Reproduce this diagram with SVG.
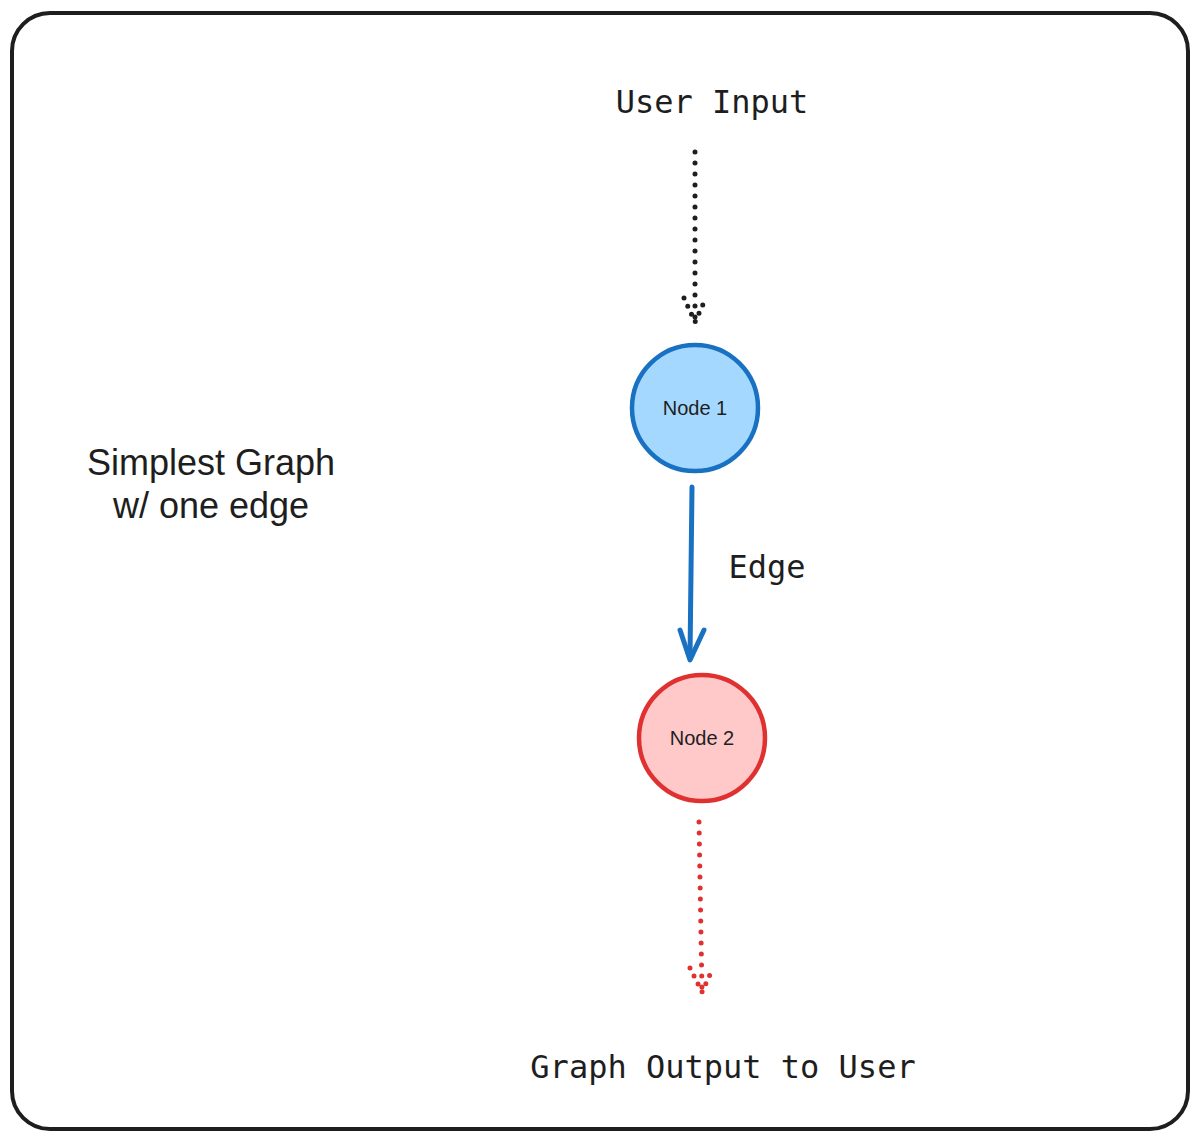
<svg xmlns="http://www.w3.org/2000/svg" width="1200" height="1142" viewBox="0 0 1200 1142">
<style>
.hand{font-family:"DejaVu Sans Mono","Liberation Mono",monospace;font-size:32px;fill:#1e1e1e;text-anchor:middle}
.sans{font-family:"Liberation Sans",Arial,sans-serif;fill:#1e1e1e;text-anchor:middle}
</style>
<rect x="12" y="13" width="1176" height="1116" rx="38" fill="#fff" stroke="#1e1e1e" stroke-width="4"/>
<text class="sans" x="211" y="475" font-size="36">Simplest Graph</text>
<text class="sans" x="211" y="518" font-size="36">w/ one edge</text>
<g id="connectors" fill="none" stroke-linecap="round">
<path d="M695 152 V322" stroke="#1e1e1e" stroke-width="5" stroke-dasharray="0 11"/>
<path d="M684 298 L695 322 L706 298" stroke="#1e1e1e" stroke-width="5" stroke-dasharray="0 9"/>
<path d="M692 487 L690 658" stroke="#1971c2" stroke-width="5"/>
<path d="M680 630 L690 660 L704 630" stroke="#1971c2" stroke-width="5" stroke-linejoin="round"/>
<path d="M699 822 L702 992" stroke="#e03131" stroke-width="5" stroke-dasharray="0 11"/>
<path d="M690 968 L702 992 L713 968" stroke="#e03131" stroke-width="5" stroke-dasharray="0 9"/>
</g>
<g id="node1"><circle cx="695" cy="408" r="63" fill="#a5d8ff" stroke="#1971c2" stroke-width="4.5"/><text class="sans" x="695" y="415" font-size="20">Node 1</text></g>
<g id="node2"><circle cx="702" cy="738" r="63" fill="#ffc9c9" stroke="#e03131" stroke-width="4.5"/><text class="sans" x="702" y="745" font-size="20">Node 2</text></g>
<text class="hand" x="712" y="113">User Input</text>
<text class="hand" x="767" y="578">Edge</text>
<text class="hand" x="723" y="1078">Graph Output to User</text>
</svg>
